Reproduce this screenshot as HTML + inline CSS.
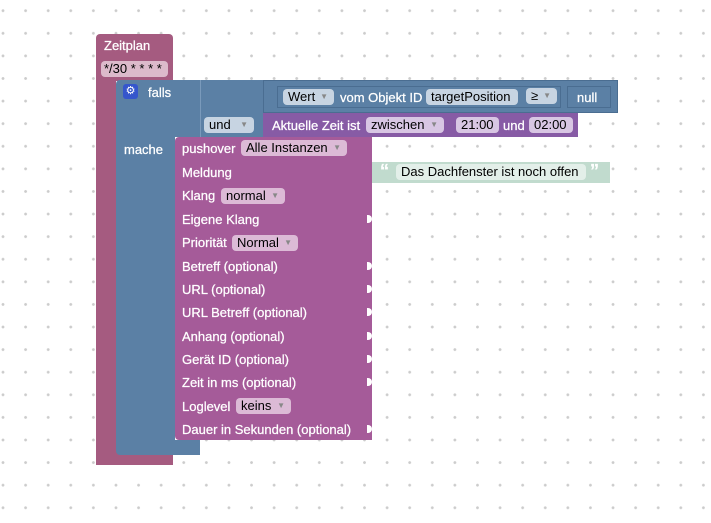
<!DOCTYPE html>
<html><head><meta charset="utf-8"><style>
body{margin:0;width:711px;height:523px;overflow:hidden;background:#fff;position:relative;font-family:"Liberation Sans",Arial,sans-serif;font-size:13px;}
.grid{position:absolute;inset:0;background-image:radial-gradient(circle,#ccc 1.2px,transparent 1.6px);background-size:22.6px 22.6px;background-position:-8.3px -0.6px;}
.b{position:absolute;}
.t{position:absolute;color:#fff;white-space:nowrap;line-height:15px;font-size:13px;-webkit-text-stroke:0.25px #fff;}
.f{position:absolute;height:16px;line-height:16px;border-radius:4px;color:#000;padding:0 5px;white-space:nowrap;font-size:13px;box-sizing:border-box;}
.ar{color:#888;font-size:8px;position:absolute;right:6px;top:0;}
.n{position:absolute;width:5px;height:8px;background:#fff;border-radius:0 4px 4px 0;}
</style></head><body>
<div class="grid"></div>
<!-- Zeitplan block -->
<div class="b" style="left:96px;top:34px;width:77px;height:47px;background:#a55b80;border-radius:4px 4px 0 0;"></div>
<div class="b" style="left:96px;top:80px;width:20px;height:385px;background:#a55b80;"></div>
<div class="b" style="left:96px;top:450px;width:77px;height:15px;background:#a55b80;border-radius:0 0 0 4px;"></div>
<div class="t" style="left:104px;top:38px;">Zeitplan</div>
<div class="f" style="left:101px;top:61px;width:67px;background:#dcbacb;padding:0 3px;">*/30 * * * *</div>
<!-- falls block -->
<div class="b" style="left:116px;top:80px;width:150px;height:57px;background:#5b80a5;border-radius:4px 0 0 0;"></div>
<div class="b" style="left:116px;top:137px;width:59px;height:306px;background:#5b80a5;"></div>
<div class="b" style="left:116px;top:440px;width:84px;height:15px;background:#5b80a5;border-radius:0 0 0 4px;"></div>
<div class="b" style="left:200px;top:80px;width:1px;height:57px;background:#7a9abb;"></div>
<div class="b" style="left:123px;top:84px;width:15px;height:15px;background:#3556cc;border-radius:3px;color:#fff;font-size:11px;line-height:15px;text-align:center;">⚙</div>
<div class="t" style="left:148px;top:85px;">falls</div>
<div class="t" style="left:124px;top:142px;">mache</div>
<div class="f" style="left:204px;top:117px;width:50px;background:#c7d4e2;">und<span class="ar">▼</span></div>
<!-- compare block -->
<div class="b" style="left:263px;top:80px;width:355px;height:33px;background:#5b80a5;border:1px solid #4a6d91;box-sizing:border-box;"></div>
<div class="b" style="left:277px;top:86px;width:284px;height:22px;border:1px solid #4a6d91;box-sizing:border-box;"></div>
<div class="f" style="left:283px;top:89px;width:51px;background:#c7d4e2;">Wert<span class="ar">▼</span></div>
<div class="t" style="left:340px;top:90px;">vom Objekt ID</div>
<div class="f" style="left:426px;top:89px;width:92px;background:#c7d4e2;">targetPosition</div>
<div class="f" style="left:526px;top:88px;width:31px;background:#c7d4e2;">≥<span class="ar">▼</span></div>
<div class="b" style="left:567px;top:86px;width:44px;height:22px;border:1px solid #4a6d91;box-sizing:border-box;"></div>
<div class="t" style="left:577px;top:90px;">null</div>
<!-- time block -->
<div class="b" style="left:263px;top:113px;width:315px;height:24px;background:#875ba5;"></div>
<div class="t" style="left:272px;top:118px;">Aktuelle Zeit ist</div>
<div class="f" style="left:366px;top:117px;width:78px;background:#d8c6e3;">zwischen<span class="ar">▼</span></div>
<div class="f" style="left:456px;top:117px;width:43px;background:#d8c6e3;">21:00</div>
<div class="t" style="left:503px;top:118px;">und</div>
<div class="f" style="left:529px;top:117px;width:44px;background:#d8c6e3;">02:00</div>
<!-- pushover -->
<div class="b" style="left:175px;top:137px;width:197px;height:303px;background:#a55b99;border-radius:4px 0 0 4px;"></div>
<div class="t" style="left:182px;top:141px;">pushover</div>
<div class="f" style="left:241px;top:140px;width:106px;background:#dcbad6;">Alle Instanzen<span class="ar">▼</span></div>
<div class="t" style="left:182px;top:165px;">Meldung</div>
<div class="t" style="left:182px;top:188px;">Klang</div>
<div class="f" style="left:221px;top:188px;width:64px;background:#dcbad6;">normal<span class="ar">▼</span></div>
<div class="t" style="left:182px;top:212px;">Eigene Klang</div>
<div class="t" style="left:182px;top:235px;">Priorität</div>
<div class="f" style="left:232px;top:235px;width:66px;background:#dcbad6;">Normal<span class="ar">▼</span></div>
<div class="t" style="left:182px;top:259px;">Betreff (optional)</div>
<div class="t" style="left:182px;top:282px;">URL (optional)</div>
<div class="t" style="left:182px;top:305px;">URL Betreff (optional)</div>
<div class="t" style="left:182px;top:329px;">Anhang (optional)</div>
<div class="t" style="left:182px;top:352px;">Gerät ID (optional)</div>
<div class="t" style="left:182px;top:375px;">Zeit in ms (optional)</div>
<div class="t" style="left:182px;top:399px;">Loglevel</div>
<div class="f" style="left:236px;top:398px;width:55px;background:#dcbad6;">keins<span class="ar">▼</span></div>
<div class="t" style="left:182px;top:422px;">Dauer in Sekunden (optional)</div>
<div class="n" style="left:367px;top:215px;"></div>
<div class="n" style="left:367px;top:262px;"></div>
<div class="n" style="left:367px;top:285px;"></div>
<div class="n" style="left:367px;top:308px;"></div>
<div class="n" style="left:367px;top:332px;"></div>
<div class="n" style="left:367px;top:355px;"></div>
<div class="n" style="left:367px;top:378px;"></div>
<div class="n" style="left:367px;top:425px;"></div>
<!-- text block -->
<div class="b" style="left:372px;top:162px;width:238px;height:21px;background:#c1dbce;"></div>
<div class="t" style="left:380px;top:164px;color:#fff;font-size:18px;font-weight:bold;">“</div>
<div class="f" style="left:396px;top:164px;width:190px;background:#e3efe9;">Das Dachfenster ist noch offen</div>
<div class="t" style="left:590px;top:164px;color:#fff;font-size:18px;font-weight:bold;">”</div>
</body></html>
